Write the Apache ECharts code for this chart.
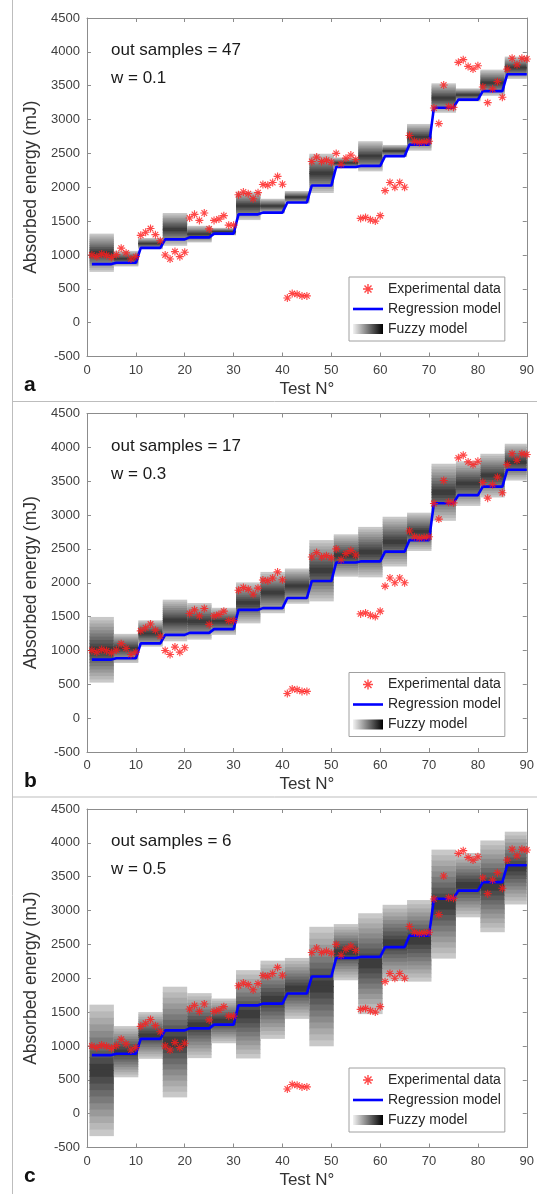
<!DOCTYPE html>
<html><head><meta charset="utf-8">
<script src="https://cdn.jsdelivr.net/npm/echarts@6/dist/echarts.min.js"></script>
<style>html,body{margin:0;padding:0;background:#fff}#c{width:537px;height:1194px}</style>
</head><body><div id="c"></div>
<script>
// ---- data ----
const experimental = [1000,975,1015,995,965,1005,1100,1030,940,975,
  1290,1335,1390,1300,1210,1000,940,1050,975,1040,
  1545,1600,1510,1620,1385,1510,1530,1580,1440,1440,
  1890,1930,1905,1830,1920,2040,2030,2070,2160,2045,
  365,430,420,395,395,2380,2445,2380,2400,2370,
  2500,2340,2430,2475,2410,1540,1555,1520,1500,1580,
  1950,2070,2000,2070,2000,2765,2680,2660,2670,2680,
  3170,2940,3510,3190,3180,3845,3885,3785,3745,3795,
  3480,3250,3450,3560,3330,3745,3905,3810,3905,3895];
const regressionLevels = [865,885,1105,1230,1260,1315,1600,1625,1775,2025,2300,2315,2460,2630,3175,3295,3420,3670];
const fuzzyLowA  = [750,830,1085,1135,1185,1290,1515,1615,1760,1915,2280,2235,2445,2540,3100,3268,3350,3600];
const fuzzyHighA = [1315,1060,1250,1620,1430,1400,1935,1830,1945,2495,2440,2680,2625,2935,3535,3460,3737,3930];
const fuzzyLowB  = [525,815,1055,1135,1160,1230,1400,1550,1690,1725,2090,2080,2240,2470,2915,3135,3260,3510];
const fuzzyHighB = [1495,1245,1445,1750,1700,1630,2005,2160,2210,2630,2715,2825,2975,3035,3758,3795,3905,4053];
const fuzzyLowC  = [-332,537,810,240,820,1040,815,1105,1400,995,1970,1470,1960,1950,2290,2900,2680,3090];
const fuzzyHighC = [1610,1293,1500,1875,1780,1700,2120,2260,2300,2760,2800,2960,3085,3155,3900,3850,4035,4165];
const outSamples = [47, 17, 6];
const wValues = ['0.1', '0.3', '0.5'];
const panelLetters = ['a', 'b', 'c'];
const yTickMin = -500, yTickMax = 4500, yTickStep = 500;
const xTickMin = 0, xTickMax = 90, xTickStep = 10;
const groupSize = 5;

// ---- build ----
const FONT = 'Liberation Sans, Arial, sans-serif';
const panelTops = [18, 413.5, 809];
const plotH = 338.5;
const grids = [], xAxes = [], yAxes = [], series = [], legends = [], graphics = [];
const fuzzyLows = [fuzzyLowA, fuzzyLowB, fuzzyLowC];
const fuzzyHighs = [fuzzyHighA, fuzzyHighB, fuzzyHighC];

const star = 'path://M8.6 0H11.4V20H8.6Z M0 8.6H20V11.4H0Z M2 4L4 2L18 16L16 18Z M16 2L18 4L4 18L2 16Z';
const axisColor = '#8c8c8c';
const labelColor = '#404040';
const plain = v => String(v);

function renderFuzzy(params, api) {
  const x0 = api.value(0), x1 = api.value(1), lo = api.value(2), hi = api.value(3);
  const cs = params.coordSys;
  let px0 = api.coord([x0, lo])[0], px1 = api.coord([x1, lo])[0];
  px0 = Math.max(px0, cs.x); px1 = Math.min(px1, cs.x + cs.width);
  const N = 10, step = (hi - lo) / 2 / N;
  const children = [];
  for (let i = 0; i < N; i++) {
    const g = Math.round(200 - 140 * i / (N - 1));
    const fill = 'rgb(' + g + ',' + g + ',' + g + ')';
    const a1 = api.coord([x0, hi - i * step])[1], a2 = api.coord([x0, hi - (i + 1) * step])[1];
    const b1 = api.coord([x0, lo + (i + 1) * step])[1], b2 = api.coord([x0, lo + i * step])[1];
    children.push({type: 'rect', shape: {x: px0, y: a1, width: px1 - px0, height: a2 - a1 + 0.6}, style: {fill}});
    children.push({type: 'rect', shape: {x: px0, y: b1 - 0.6, width: px1 - px0, height: b2 - b1 + 0.6}, style: {fill}});
  }
  return {type: 'group', children};
}

function axisBase(extra) {
  return Object.assign({
    axisLine: {show: true, onZero: false, lineStyle: {color: axisColor, width: 1}},
    axisTick: {show: true, inside: true, length: 4, lineStyle: {color: axisColor}},
    splitLine: {show: false}
  }, extra);
}

for (let p = 0; p < 3; p++) {
  const top = panelTops[p];
  grids.push({left: 87, right: 10, top: top, height: plotH, show: false});
  xAxes.push(axisBase({type: 'value', gridIndex: p, min: xTickMin, max: xTickMax, interval: xTickStep, position: 'bottom',
    axisLabel: {show: true, color: labelColor, fontFamily: FONT, fontSize: 13, margin: 7, formatter: plain},
    name: 'Test N°', nameLocation: 'middle', nameGap: 24,
    nameTextStyle: {fontFamily: FONT, fontSize: 17, color: '#333'}}));
  xAxes.push(axisBase({type: 'value', gridIndex: p, min: xTickMin, max: xTickMax, interval: xTickStep, position: 'top',
    axisLabel: {show: false}}));
  yAxes.push(axisBase({type: 'value', gridIndex: p, min: yTickMin, max: yTickMax, interval: yTickStep, position: 'left',
    axisLabel: {show: true, color: labelColor, fontFamily: FONT, fontSize: 13, margin: 7, formatter: plain},
    name: 'Absorbed energy (mJ)', nameLocation: 'middle', nameGap: 25,
    nameTextStyle: {fontFamily: FONT, fontSize: 17.5, color: '#333'}}));
  yAxes.push(axisBase({type: 'value', gridIndex: p, min: yTickMin, max: yTickMax, interval: yTickStep, position: 'right',
    axisLabel: {show: false}}));

  const fuzzyData = regressionLevels.map((_, k) => [k * groupSize + 0.5, k * groupSize + groupSize + 0.5, fuzzyLows[p][k], fuzzyHighs[p][k]]);
  series.push({type: 'custom', name: 'Fuzzy model', xAxisIndex: 2 * p, yAxisIndex: 2 * p, renderItem: renderFuzzy,
    data: fuzzyData, itemStyle: {color: '#555'}, z: 1, encode: {x: [0, 1], y: [2, 3]}});
  series.push({type: 'line', name: 'Regression model', xAxisIndex: 2 * p, yAxisIndex: 2 * p,
    data: experimental.map((_, i) => [i + 1, regressionLevels[Math.floor(i / groupSize)]]),
    showSymbol: false, symbol: 'none', lineStyle: {color: '#0000ff', width: 2.6}, itemStyle: {color: '#0000ff'}, z: 3});
  series.push({type: 'scatter', name: 'Experimental data', xAxisIndex: 2 * p, yAxisIndex: 2 * p,
    data: experimental.map((v, i) => [i + 1, v]), symbol: star, symbolSize: 8,
    itemStyle: {color: '#ff1a1a'}, z: 4});

  legends.push({orient: 'vertical', left: 349, top: top + 259, width: 158,
    padding: [5, 4, 5, 4], itemGap: 6, itemWidth: 30, itemHeight: 10,
    borderColor: '#a0a0a0', borderWidth: 1, backgroundColor: '#fff',
    textStyle: {fontFamily: FONT, fontSize: 14, color: '#262626'},
    selectedMode: false,
    data: [
      {name: 'Experimental data'},
      {name: 'Regression model', icon: 'path://M0 0H30V2.6H0Z', itemStyle: {color: '#0000ff'}},
      {name: 'Fuzzy model', icon: 'rect', itemStyle: {color: new echarts.graphic.LinearGradient(0, 0, 1, 0, [{offset: 0, color: '#f2f2f2'}, {offset: 1, color: '#000'}])}}
    ]});

  graphics.push({type: 'text', left: 111, top: top + 24, style: {text: 'out samples = ' + outSamples[p], font: '17px ' + FONT, fill: '#1a1a1a'}});
  graphics.push({type: 'text', left: 111, top: top + 52, style: {text: 'w = ' + wValues[p], font: '17px ' + FONT, fill: '#1a1a1a'}});
  graphics.push({type: 'text', left: 24, top: top + 357, style: {text: panelLetters[p], font: 'bold 21px ' + FONT, fill: '#111'}});
}
graphics.push({type: 'line', shape: {x1: 12.5, y1: 0, x2: 12.5, y2: 1194}, style: {stroke: '#bdbdbd', lineWidth: 1}});
graphics.push({type: 'line', shape: {x1: 12, y1: 401.5, x2: 537, y2: 401.5}, style: {stroke: '#bdbdbd', lineWidth: 1}});
graphics.push({type: 'line', shape: {x1: 12, y1: 797, x2: 537, y2: 797}, style: {stroke: '#bdbdbd', lineWidth: 1}});

const chart = echarts.init(document.getElementById('c'));
chart.setOption({animation: false, backgroundColor: '#fff', grid: grids, xAxis: xAxes, yAxis: yAxes,
  legend: legends, series: series, graphic: graphics});
</script></body></html>
